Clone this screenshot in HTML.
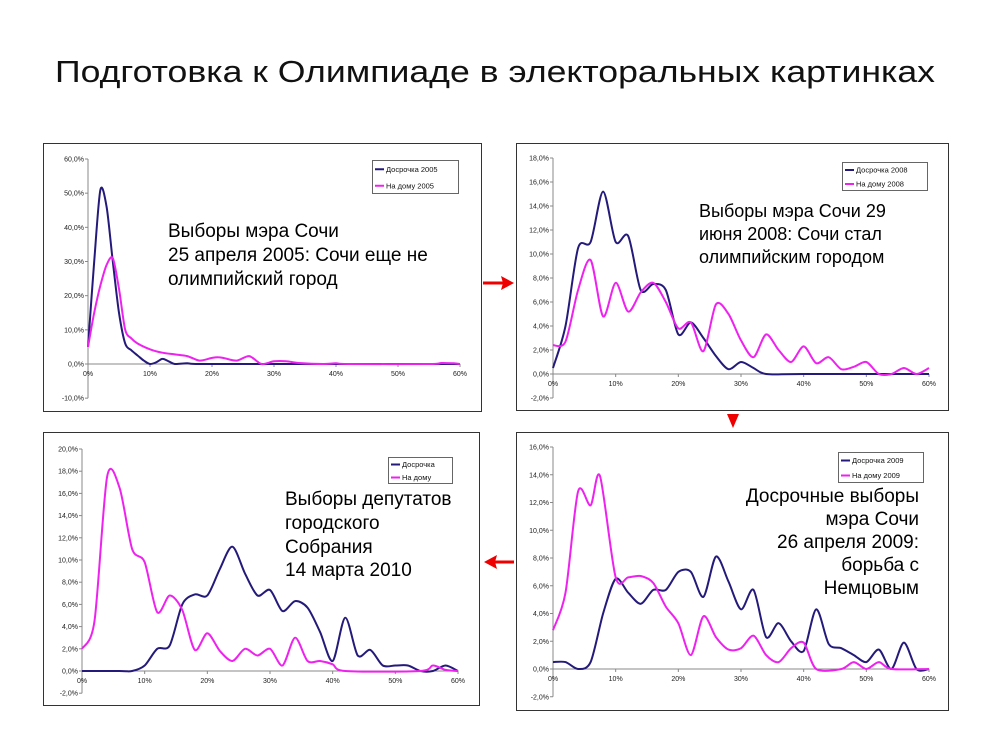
<!DOCTYPE html>
<html><head><meta charset="utf-8"><style>
html,body{margin:0;padding:0;background:#fff;}
svg{display:block;font-family:"Liberation Sans",sans-serif;}
</style></head><body>
<svg id="s" width="982" height="736" viewBox="0 0 982 736" xmlns="http://www.w3.org/2000/svg">
<text x="55" y="82" font-size="31" textLength="880" lengthAdjust="spacingAndGlyphs" fill="#111">Подготовка к Олимпиаде в электоральных картинках</text>
<rect x="43.5" y="143.5" width="438" height="268" fill="#fff" stroke="#333" stroke-width="1"/>
<rect x="516.5" y="143.5" width="432" height="267" fill="#fff" stroke="#333" stroke-width="1"/>
<rect x="43.5" y="432.5" width="436" height="273" fill="#fff" stroke="#333" stroke-width="1"/>
<rect x="516.5" y="432.5" width="432" height="278" fill="#fff" stroke="#333" stroke-width="1"/>
<g fill="#e00" stroke="#e00">
<line x1="483" y1="283" x2="504" y2="283" stroke-width="3"/><polygon points="514,283 501,276 503,283 501,290" stroke="none"/>
<line x1="514" y1="562" x2="494" y2="562" stroke-width="3"/><polygon points="484,562 497,555 495,562 497,569" stroke="none"/>
<polygon points="727,414 739,414 733,428" stroke="none"/>
</g>
<g id="g"></g>
<g font-size="19" fill="#000">
<text x="168" y="237">Выборы мэра Сочи</text>
<text x="168" y="261">25 апреля 2005: Сочи еще не</text>
<text x="168" y="285">олимпийский город</text>
<text x="699" y="217" font-size="18">Выборы мэра Сочи 29</text>
<text x="699" y="240" font-size="18">июня 2008: Сочи стал</text>
<text x="699" y="263" font-size="18">олимпийским городом</text>
<text x="285" y="505">Выборы депутатов</text>
<text x="285" y="529">городского</text>
<text x="285" y="553">Собрания</text>
<text x="285" y="576">14 марта 2010</text>
<g text-anchor="end">
<text x="919" y="502">Досрочные выборы</text>
<text x="919" y="525">мэра Сочи</text>
<text x="919" y="548">26 апреля 2009:</text>
<text x="919" y="571">борьба с</text>
<text x="919" y="594">Немцовым</text>
</g>
</g>
</svg>
<script>
var NS="http://www.w3.org/2000/svg",G=document.getElementById('g');
function el(t,a,txt){var e=document.createElementNS(NS,t);for(var k in a)e.setAttribute(k,a[k]);if(txt!=null)e.textContent=txt;G.appendChild(e);return e;}
function path(pts){var d="M"+pts[0][0]+","+pts[0][1];for(var i=0;i<pts.length-1;i++){var p0=pts[i-1]||pts[i],p1=pts[i],p2=pts[i+1],p3=pts[i+2]||p2;
var c1=[p1[0]+(p2[0]-p0[0])/7,p1[1]+(p2[1]-p0[1])/7],c2=[p2[0]-(p3[0]-p1[0])/7,p2[1]-(p3[1]-p1[1])/7];
d+="C"+c1[0].toFixed(1)+","+c1[1].toFixed(1)+" "+c2[0].toFixed(1)+","+c2[1].toFixed(1)+" "+p2[0].toFixed(1)+","+p2[1].toFixed(1);}return d;}
function chart(c){
 var X=function(v){return c.x0+(c.x60-c.x0)*v/60;},Y=function(v){return c.y0+(c.ytop-c.y0)*v/c.ymax;};
 var yb=Y(c.ymin);
 el('line',{x1:c.x0,y1:Y(c.ymax),x2:c.x0,y2:yb,stroke:'#888','stroke-width':1});
 el('line',{x1:c.x0,y1:Y(0),x2:c.x60,y2:Y(0),stroke:'#888','stroke-width':1});
 for(var v=c.ymin;v<=c.ymax+1e-9;v+=c.step){var y=Y(v);el('line',{x1:c.x0-3,y1:y,x2:c.x0,y2:y,stroke:'#888'});
  el('text',{x:c.x0-4,y:y+2.5,'font-size':7,'text-anchor':'end',fill:'#222'},v.toFixed(1).replace('.',',')+'%');}
 for(var t=0;t<=60;t+=10){var x=X(t);el('line',{x1:x,y1:Y(0),x2:x,y2:Y(0)+3,stroke:'#888'});
  el('text',{x:x,y:Y(0)+12,'font-size':7,'text-anchor':'middle',fill:'#222'},t+'%');}
 [[c.b,'#241a7a'],[c.p,'#ee22ee']].forEach(function(s){
  el('path',{d:path(s[0].map(function(q){return[X(q[0]),Y(q[1])];})),fill:'none',stroke:s[1],'stroke-width':2,'stroke-linejoin':'round'});});
 var L=c.leg;el('rect',{x:L[0]+.5,y:L[1]+.5,width:L[2],height:L[3],fill:'#fff',stroke:'#666'});
 var h=L[3]/2;
 [[c.n1,'#241a7a'],[c.n2,'#ee22ee']].forEach(function(s,i){var y=L[1]+h*(i+0.5)+1;
  el('line',{x1:L[0]+3,y1:y,x2:L[0]+12,y2:y,stroke:s[1],'stroke-width':2});
  el('text',{x:L[0]+14,y:y+2.5,'font-size':7.5,fill:'#111'},s[0]);});
}
chart({x0:88,x60:460,y0:364,ytop:159,ymax:60,ymin:-10,step:10,leg:[372,160,86,33],n1:'Досрочка 2005',n2:'На дому 2005',
b:[[0,5],[1,30],[2,51],[3,46],[4,30],[5,15],[6,6],[7,4],[8,2.5],[9,1],[10,0],[11,0.5],[12,1.5],[13,0.8],[14,0],[16,0.2],[18,0],[30,0],[60,0]],
p:[[0,5],[1,15],[2,23],[3,29],[4,31],[5,22],[6,10],[7,7.5],[8,6],[10,4.3],[12,3.3],[14,2.8],[16,2.3],[18,1],[20,1.8],[21,2],[22,1.7],[24,1],[26,2.3],[28,0],[30,0.8],[32,0.8],[34,0.3],[38,0],[40,0.2],[42,0],[55,0],[57,0.3],[59,0.2],[60,0]]});
chart({x0:553,x60:929,y0:374,ytop:158,ymax:18,ymin:-2,step:2,leg:[842,162,85,28],n1:'Досрочка 2008',n2:'На дому 2008',
b:[[0,0.5],[2,4],[4,10.5],[6,11],[8,15.2],[10,11],[12,11.5],[14,7],[16,7.5],[18,7],[20,3.3],[22,4.3],[24,3],[26,1.5],[28,0.4],[30,1],[32,0.5],[34,0],[40,0],[60,0]],
p:[[0,2.4],[2,2.7],[4,7],[6,9.5],[8,4.8],[10,7.6],[12,5.2],[14,6.8],[16,7.6],[18,6],[20,3.8],[22,4.3],[24,1.9],[26,5.8],[28,5],[30,2.8],[32,1.4],[34,3.3],[36,2],[38,1],[40,2.3],[42,0.9],[44,1.4],[46,0.4],[48,0.6],[50,1],[52,0],[54,0],[56,0.5],[58,0],[60,0.5]]});
chart({x0:82,x60:458,y0:671,ytop:449,ymax:20,ymin:-2,step:2,leg:[388,457,64,26],n1:'Досрочка',n2:'На дому',
b:[[0,0],[6,0],[8,0],[10,0.5],[12,2],[14,2.3],[16,6],[18,6.9],[20,6.8],[22,9.2],[24,11.2],[26,8.8],[28,6.8],[30,7.3],[32,5.4],[34,6.3],[36,5.7],[38,3.5],[40,0.9],[42,4.8],[44,1.4],[46,1.9],[48,0.5],[50,0.5],[52,0.5],[54,0],[56,0],[58,0.5],[60,0]],
p:[[0,2],[2,4.5],[4,17.5],[6,16.5],[8,11],[10,9.8],[12,5.3],[14,6.8],[16,5.5],[18,1.9],[20,3.4],[22,1.8],[24,0.9],[26,2],[28,1.4],[30,2],[32,0.5],[34,3],[36,0.9],[38,0.9],[40,0.6],[42,0],[54,0],[56,0.5],[58,0.1],[60,0]]});
chart({x0:553,x60:929,y0:669,ytop:447,ymax:16,ymin:-2,step:2,leg:[838,452,85,30],n1:'Досрочка 2009',n2:'На дому 2009',
b:[[0,0.5],[2,0.5],[4,0],[6,0.5],[8,4],[10,6.5],[12,5.5],[14,4.7],[16,5.7],[18,5.7],[20,7],[22,7],[24,5.2],[26,8.1],[28,6.3],[30,4.3],[32,5.7],[34,2.3],[36,3.3],[38,2],[40,1.3],[42,4.3],[44,1.8],[46,1.5],[48,1],[50,0.5],[52,1.4],[54,0],[56,1.9],[58,0],[60,0]],
p:[[0,2.8],[2,5.5],[4,12.8],[6,11.8],[7.5,13.9],[10,6.6],[12,6.6],[14,6.7],[16,6.2],[18,4.5],[20,3.3],[22,1],[24,3.8],[26,2.3],[28,1.4],[30,1.5],[32,2.4],[34,1],[36,0.5],[38,1.5],[40,1.9],[42,0],[46,0],[48,0.5],[50,0],[52,0.5],[54,0],[60,0]]});
</script>
</body></html>
